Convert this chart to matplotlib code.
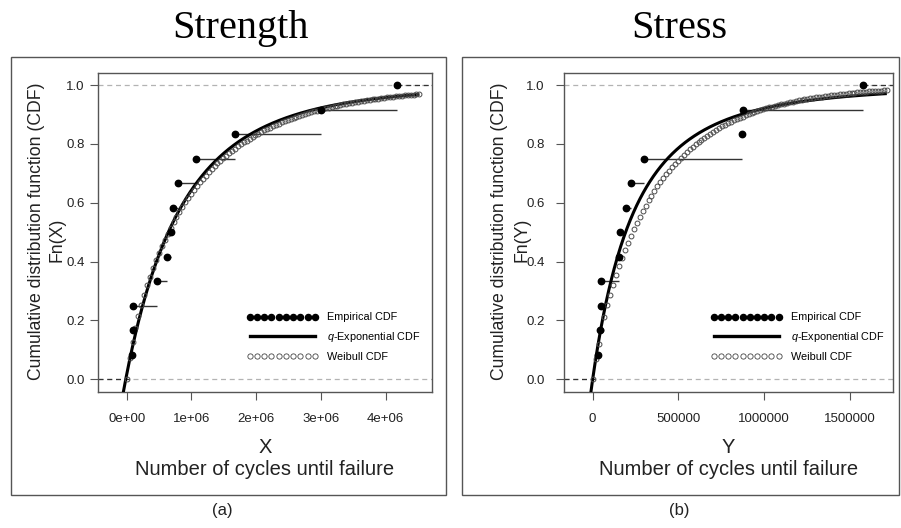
import numpy as np
import matplotlib
matplotlib.use('Agg')
import matplotlib.pyplot as plt
from matplotlib.lines import Line2D
from matplotlib.patches import Rectangle
from matplotlib.ticker import FixedLocator, FixedFormatter

plt.rcParams['font.family'] = ['Liberation Sans', 'DejaVu Sans']
plt.rcParams['mathtext.fontset'] = 'custom'
plt.rcParams['mathtext.it'] = 'Liberation Sans:italic'
plt.rcParams['mathtext.rm'] = 'Liberation Sans'

# ---------------- data ----------------
ecdf_levels = [1/12, 2/12, 3/12, 4/12, 5/12, 6/12, 7/12, 8/12, 9/12, 10/12, 11/12, 12/12]
strength_cycles = [77000, 93000, 102000, 465000, 615000, 680000, 720000, 797000,
                   1075000, 1673000, 3001000, 4180000]
stress_cycles = [33000, 44000, 47000, 50000, 156000, 159000, 192000, 221000,
                 301000, 872000, 876000, 1579000]

# fitted model parameters (estimated from the drawn curves)
strength_qexp = dict(q=1.18, eta=0.72e6, shift=-0.015e6)
strength_weibull = dict(shape=0.83, scale=1.0e6)
strength_curve_end = 4.52e6
stress_qexp = dict(q=1.259, eta=1.813e5, shift=0.0)
stress_weibull = dict(shape=0.88, scale=3.51e5)
stress_curve_end = 1.715e6

strength_xticks = [0, 1e6, 2e6, 3e6, 4e6]
strength_xticklabels = ['0e+00', '1e+06', '2e+06', '3e+06', '4e+06']
stress_xticks = [0, 500000, 1000000, 1500000]
stress_xticklabels = ['0', '500000', '1000000', '1500000']
yticks = [0.0, 0.2, 0.4, 0.6, 0.8, 1.0]
yticklabels = ['0.0', '0.2', '0.4', '0.6', '0.8', '1.0']


def qexp_cdf(x, q, eta, shift):
    base = 1.0 + (q - 1.0) * (x - shift) / eta
    with np.errstate(invalid='ignore'):
        return 1.0 - np.power(base, -(2.0 - q) / (q - 1.0))


def weibull_cdf(x, shape, scale):
    return 1.0 - np.exp(-np.power(x / scale, shape))


W, H = 901, 528
fig = plt.figure(figsize=(W / 100, H / 100), dpi=100)


def fig_rect(x0, y0, x1, y1):
    return [x0 / W, 1 - y1 / H, (x1 - x0) / W, (y1 - y0) / H]


# panel frames
for (x0, x1) in [(11, 446), (462, 899)]:
    fig.add_artist(Rectangle((x0 / W, 1 - 495 / H), (x1 - x0) / W, (495 - 56.7) / H,
                             transform=fig.transFigure, fill=False,
                             edgecolor='#555555', linewidth=1.0))

panels = [
    dict(rect=fig_rect(98, 73.3, 431.7, 391.7), xlim=(-0.4432e6, 4.710e6),
         cycles=strength_cycles, qexp=strength_qexp, weib=strength_weibull,
         end=strength_curve_end, xticks=strength_xticks, xtl=strength_xticklabels,
         var='X', title='Strength', title_x=240, sub='(a)', sub_x=222,
         ylab_x=(-0.184, -0.124), ytick_pad=3.5),
    dict(rect=fig_rect(564, 73.3, 893, 391.7), xlim=(-1.67e5, 1.751e6),
         cycles=stress_cycles, qexp=stress_qexp, weib=stress_weibull,
         end=stress_curve_end, xticks=stress_xticks, xtl=stress_xticklabels,
         var='Y', title='Stress', title_x=679, sub='(b)', sub_x=679,
         ylab_x=(-0.195, -0.129), ytick_pad=8),
]

for p in panels:
    ax = fig.add_axes(p['rect'])
    ax.set_xlim(*p['xlim'])
    ax.set_ylim(-0.042, 1.04)

    # reference dashed lines
    ax.axhline(0, color='#b3b3b3', lw=0.9, ls=(0, (4, 3)), zorder=1)
    ax.axhline(1, color='#b3b3b3', lw=0.9, ls=(0, (4, 3)), zorder=1)

    xs = np.array(p['cycles'], dtype=float)
    ys = np.array(ecdf_levels)
    # step segments of the empirical CDF
    ax.hlines(ys[:-1], xs[:-1], xs[1:], color='#333333', lw=1.0, zorder=2)
    # infinite extensions
    ax.hlines([0.0], [p['xlim'][0]], [xs[0]], color='#333333', lw=0.9,
              linestyles=[(0, (4, 3))], zorder=2)
    ax.hlines([ys[-1]], [xs[-1]], [p['xlim'][1]], color='#333333', lw=0.9,
              linestyles=[(0, (4, 3))], zorder=2)
    ax.plot(xs, ys, 'o', color='black', ms=4.6, zorder=5)

    # q-exponential fitted CDF
    xq = np.linspace(p['xlim'][0], p['end'], 600)
    ax.plot(xq, qexp_cdf(xq, **p['qexp']), color='black', lw=2.2, zorder=3,
            solid_capstyle='butt')
    # Weibull fitted CDF (points)
    xw = np.linspace(0, p['end'], 101)
    ax.plot(xw, weibull_cdf(xw, **p['weib']), 'o', mfc='none', mec='#4a4a4a',
            mew=0.7, ms=3.5, zorder=4)

    ax.xaxis.set_major_locator(FixedLocator(p['xticks']))
    ax.xaxis.set_major_formatter(FixedFormatter(p['xtl']))
    ax.yaxis.set_major_locator(FixedLocator(yticks))
    ax.yaxis.set_major_formatter(FixedFormatter(yticklabels))
    ax.tick_params(axis='both', direction='out', length=6, width=0.8,
                   color='#555555', labelsize=9.5, labelcolor='#222222')
    ax.tick_params(axis='x', pad=9)
    ax.tick_params(axis='y', pad=p['ytick_pad'])
    for s in ax.spines.values():
        s.set_color('#555555')
        s.set_linewidth(1.0)

    # axis labels
    ax.text(0.5, -0.176, p['var'], transform=ax.transAxes, ha='center',
            va='center', fontsize=14.5, color='#222222')
    ax.text(0.5, -0.243, 'Number of cycles until failure', transform=ax.transAxes,
            ha='center', va='center', fontsize=14.5, color='#222222')
    ax.text(p['ylab_x'][0], 0.505, 'Cumulative distribution function (CDF)',
            transform=ax.transAxes, rotation=90, ha='center', va='center',
            fontsize=12.7, color='#222222')
    ax.text(p['ylab_x'][1], 0.478, 'Fn(%s)' % p['var'],
            transform=ax.transAxes, rotation=90, ha='center', va='center',
            fontsize=12.7, color='#222222')

    # legend
    handles = [
        Line2D([], [], ls='none', marker='o', color='black', ms=4.4),
        Line2D([], [], color='black', lw=2.4),
        Line2D([], [], ls='none', marker='o', mfc='none', mec='#444444', mew=0.6, ms=3.8),
    ]
    labels = ['Empirical CDF', r'$q$-Exponential CDF', 'Weibull CDF']
    ax.legend(handles, labels, loc='upper left', bbox_to_anchor=(0.445, 0.249),
              frameon=False, fontsize=7.8, numpoints=10, handlelength=6.6,
              handletextpad=0.8, labelspacing=0.72, borderpad=0, borderaxespad=0)

    fig.text(p['title_x'] / W, 1 - 38 / H, p['title'], ha='center', va='baseline',
             fontsize=29, family='Liberation Serif', color='black')
    fig.text(p['sub_x'] / W, 1 - 510 / H, p['sub'], ha='center', va='center',
             fontsize=12, color='#222222')

fig.savefig('out.png', dpi=100)
